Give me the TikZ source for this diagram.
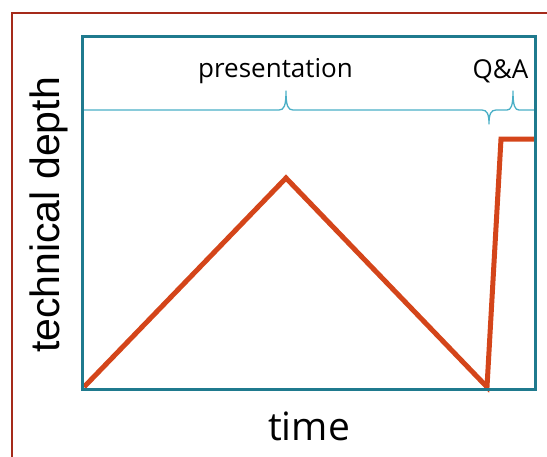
\documentclass[tikz,border=0pt]{standalone}
\usepackage{fontspec}
\setmainfont{Open Sans}
\newfontfamily\arialfont{Liberation Sans}
\definecolor{frame}{HTML}{A52A1A}
\definecolor{boxteal}{HTML}{1F7A8E}
\definecolor{braceteal}{HTML}{4AAFC6}
\definecolor{curve}{HTML}{D4451A}
\begin{document}
\begin{tikzpicture}[x=1pt,y=-1pt,
  lbl/.style={inner sep=0pt,font=\fontsize{26}{30}\selectfont},
  bigl/.style={inner sep=0pt,font=\fontsize{39}{44}\selectfont},
  bracepath/.style={draw=braceteal,line width=1.3pt,line join=round},
  curvepath/.style={draw=curve,line width=5pt,line join=miter}]
\useasboundingbox (0,0) rectangle (547,456);
\begin{scope}
\clip (0,0) rectangle (547,456);
\draw[frame,line width=2pt] (11.5,12.5) rectangle (570,480);
\end{scope}
% braces
\draw[bracepath] (82,110) -- (279,110) .. controls (284,110) and (286,106) .. (286,91)
  .. controls (286,106) and (288,110) .. (293,110) -- (482,110)
  .. controls (487,110) and (489,114) .. (489,124)
  .. controls (489,114) and (491,110) .. (496,110) -- (507,110)
  .. controls (511,110) and (513,106) .. (513,91)
  .. controls (513,106) and (515,110) .. (519,110) -- (535,110);
% curve
\coordinate (p0) at (84,387);
\coordinate (p1) at (286,178);
\coordinate (p2) at (487,387);
\coordinate (p3) at (501,139);
\coordinate (p4) at (535,139);
\draw[curvepath] (p0) -- (p1) -- (p2) -- (p3) -- (p4);
% axis box
\draw[boxteal,line width=3pt] (82,36) rectangle (535,389);
% labels
\node[lbl,anchor=base] (pres) at (275.5,77) {presentation};
\node[lbl,anchor=base] (qa) at (500.5,78) {Q\&A};
\node[bigl,anchor=base] (time) at (309,440) {time};
\node[inner sep=0pt,anchor=base,rotate=90,font=\arialfont\fontsize{41}{48}\selectfont] (depth) at (59,215) {technical depth};
\end{tikzpicture}
\end{document}
